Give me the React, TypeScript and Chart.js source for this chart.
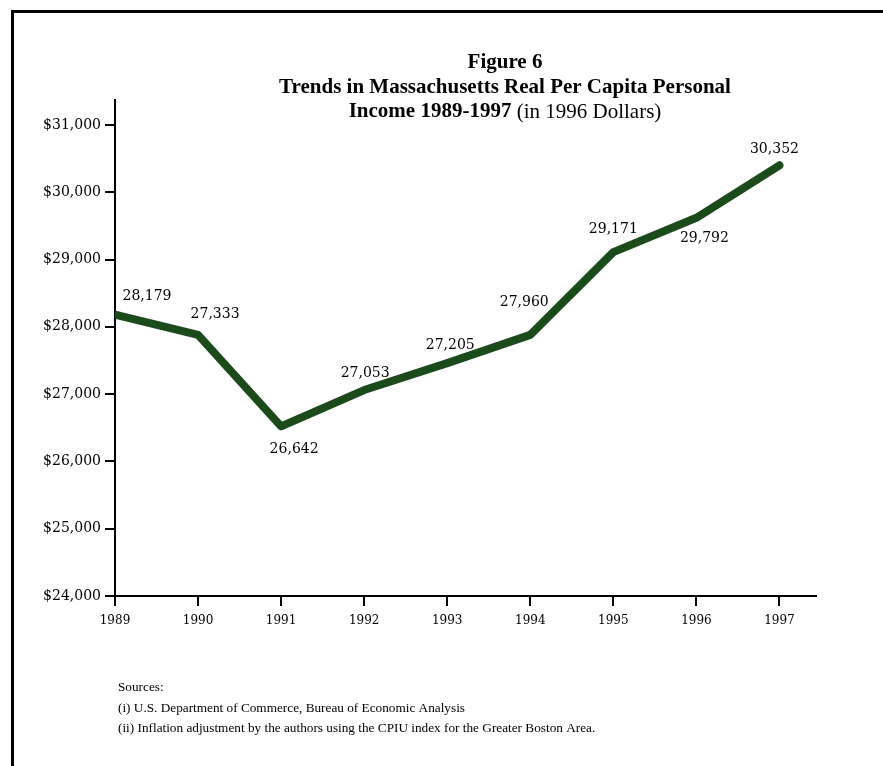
import React, { useEffect, useRef } from 'react';
import { Chart, registerables } from 'chart.js';

Chart.register(...registerables);

// ---- data ----
const years = [1989, 1990, 1991, 1992, 1993, 1994, 1995, 1996, 1997];
// line positions as drawn in the figure
const plottedValues = [28180, 27880, 26520, 27060, 27460, 27880, 29110, 29620, 30400];
// value labels printed next to the points
const valueLabels = ['28,179', '27,333', '26,642', '27,053', '27,205', '27,960', '29,171', '29,792', '30,352'];
const yTickValues = [24000, 25000, 26000, 27000, 28000, 29000, 30000, 31000];

const titleLine1 = 'Figure 6';
const titleLine2 = 'Trends in Massachusetts Real Per Capita Personal';
const titleLine3Bold = 'Income 1989-1997';
const titleLine3Normal = ' (in 1996 Dollars)';
const sourceLines = [
  'Sources:',
  '(i) U.S. Department of Commerce, Bureau of Economic Analysis',
  '(ii) Inflation adjustment by the authors using the CPIU index for the Greater Boston Area.',
];

// ---- layout (label placement relative to each point) ----
const labelOffsets: [number, number][] = [
  [32, -18], [17, -21], [13, 23], [1, -17], [3, -18], [-6, -33], [0, -23], [8, 21], [-5, -16],
];

const W = 883;
const H = 766;
const LINE_COLOR = '#1b4a1b';

const decorPlugin = {
  id: 'decor',
  afterDraw(chart: any) {
    const ctx: CanvasRenderingContext2D = chart.ctx;
    ctx.save();
    ctx.fillStyle = '#000';
    // frame (left + top edges)
    ctx.fillRect(11, 10, 3, H - 10);
    ctx.fillRect(11, 10, W - 11, 3);

    // title
    const cx = 505;
    ctx.textBaseline = 'middle';
    ctx.textAlign = 'center';
    ctx.font = 'bold 21px "Liberation Serif"';
    ctx.fillText(titleLine1, cx, 63);
    ctx.fillText(titleLine2, cx, 88);
    const boldF = 'bold 21px "Liberation Serif"';
    const normF = 'normal 21px "Liberation Serif"';
    ctx.font = boldF;
    const w1 = ctx.measureText(titleLine3Bold).width;
    ctx.font = normF;
    const w2 = ctx.measureText(titleLine3Normal).width;
    const x = cx - (w1 + w2) / 2;
    ctx.textAlign = 'left';
    ctx.font = boldF;
    ctx.fillText(titleLine3Bold, x, 112);
    ctx.font = normF;
    ctx.fillText(titleLine3Normal, x + w1, 112);

    // data labels
    const meta = chart.getDatasetMeta(0);
    ctx.font = '14px "DejaVu Serif"';
    ctx.textAlign = 'center';
    meta.data.forEach((pt: any, i: number) => {
      const [dx, dy] = labelOffsets[i];
      ctx.fillText(valueLabels[i], pt.x + dx, pt.y + dy);
    });

    // sources
    ctx.textAlign = 'left';
    ctx.font = '13.25px "Liberation Serif"';
    sourceLines.forEach((s, i) => ctx.fillText(s, 118, 688 + i * 20.5));
    ctx.restore();
  },
};

export default function App() {
  const ref = useRef<HTMLCanvasElement | null>(null);
  useEffect(() => {
    if (!ref.current) return;
    const chart = new Chart(ref.current, {
      type: 'line',
      data: {
        datasets: [
          {
            data: years.map((y, i) => ({ x: y, y: plottedValues[i] })),
            borderColor: LINE_COLOR,
            backgroundColor: LINE_COLOR,
            borderWidth: 8,
            pointRadius: 0,
            borderJoinStyle: 'round',
            borderCapStyle: 'round',
            tension: 0,
            fill: false,
          },
        ],
      },
      options: {
        responsive: false,
        animation: false,
        layout: { padding: { left: 0, top: 100, right: W - 816, bottom: 0 } },
        plugins: {
          legend: { display: false },
          title: { display: false },
          tooltip: { enabled: false },
        },
        scales: {
          x: {
            type: 'linear',
            min: 1989,
            max: 1997.44,
            afterBuildTicks: (s: any) => {
              s.ticks = years.map((v) => ({ value: v }));
            },
            afterFit: (s: any) => {
              s.height = 170;
            },
            grid: { drawOnChartArea: false, drawTicks: true, tickLength: 10, color: '#000', lineWidth: 2 },
            border: { display: true, color: '#000', width: 2 },
            ticks: {
              color: '#000',
              font: { family: 'DejaVu Serif', size: 12 },
              padding: 8,
              maxRotation: 0,
              autoSkip: false,
              callback: (v: any) => String(v),
            },
          },
          y: {
            type: 'linear',
            min: 24000,
            max: 31370,
            afterBuildTicks: (s: any) => {
              s.ticks = yTickValues.map((v) => ({ value: v }));
            },
            afterFit: (s: any) => {
              s.width = 115;
            },
            grid: { drawOnChartArea: false, drawTicks: true, tickLength: 10, color: '#000', lineWidth: 2 },
            border: { display: true, color: '#000', width: 2 },
            ticks: {
              color: '#000',
              font: { family: 'DejaVu Serif', size: 14 },
              padding: 4,
              autoSkip: false,
              callback: (v: any) => '$' + Number(v).toLocaleString('en-US'),
            },
          },
        },
      },
      plugins: [decorPlugin],
    } as any);
    return () => chart.destroy();
  }, []);
  return (
    <div style={{ position: 'absolute', left: 0, top: 0, width: W, height: H, background: '#fff' }}>
      <canvas ref={ref} width={W} height={H} style={{ display: 'block' }} />
    </div>
  );
}
